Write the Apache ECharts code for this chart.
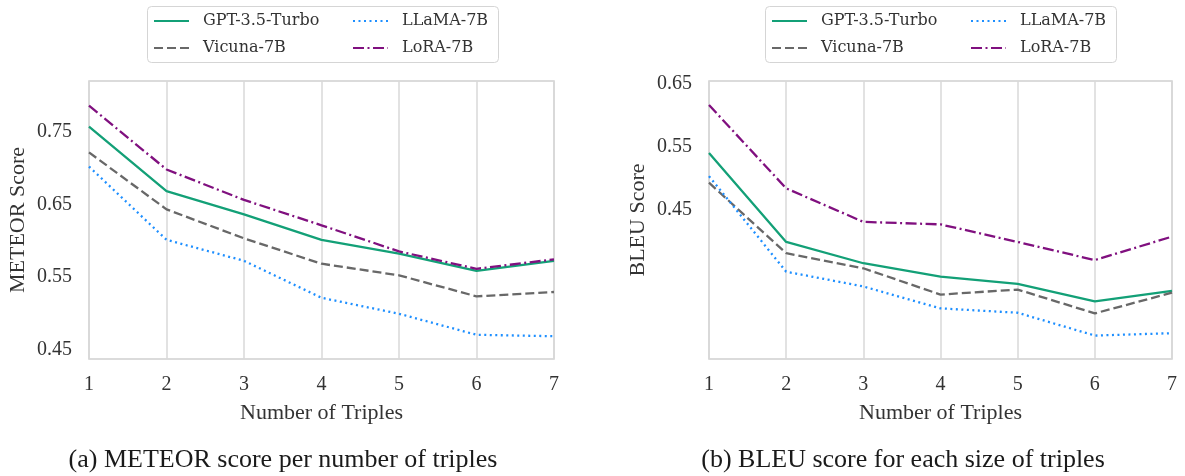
<!DOCTYPE html>
<html>
<head>
<meta charset="utf-8">
<title>METEOR / BLEU vs number of triples</title>
<script src="https://cdn.jsdelivr.net/npm/echarts@6/dist/echarts.min.js"></script>
<style>
    html, body { margin: 0; padding: 0; background: #fff; }
    #main { width: 1185px; height: 476px; }
</style>
</head>
<body>
<div id="main"></div>
<script>
'use strict';

var triples = ['1', '2', '3', '4', '5', '6', '7'];
var modelNames = ['GPT-3.5-Turbo', 'Vicuna-7B', 'LLaMA-7B', 'LoRA-7B'];

// (a) METEOR
var meteorGpt = [0.757, 0.668, 0.636, 0.601, 0.582, 0.558, 0.572];
var meteorVicuna = [0.7215, 0.643, 0.603, 0.568, 0.552, 0.523, 0.529];
var meteorLlama = [0.702, 0.601, 0.572, 0.521, 0.499, 0.470, 0.468];
var meteorLora = [0.786, 0.698, 0.656, 0.621, 0.585, 0.561, 0.574];
var meteorTicks = [0.45, 0.55, 0.65, 0.75];

// (b) BLEU
var bleuGpt = [0.540, 0.398, 0.364, 0.3425, 0.331, 0.303, 0.320];
var bleuVicuna = [0.4925, 0.380, 0.356, 0.314, 0.322, 0.284, 0.317];
var bleuLlama = [0.503, 0.3505, 0.327, 0.292, 0.285, 0.2486, 0.2524];
var bleuLora = [0.6165, 0.4835, 0.430, 0.426, 0.398, 0.369, 0.4065];
var bleuTicks = [0.45, 0.55, 0.65];

var captions = ['(a) METEOR score per number of triples', '(b) BLEU score for each size of triples'];

var styles = {
    'GPT-3.5-Turbo': { color: '#13a077', type: 'solid' },
    'Vicuna-7B': { color: '#686868', type: [9, 4] },
    'LLaMA-7B': { color: '#1e8fff', type: [2, 3.5] },
    'LoRA-7B': { color: '#80107f', type: [11, 3.5, 2, 3.5] }
};

var tickFont = 'Liberation Serif';
var legendFont = 'DejaVu Serif';

function makeSeries(name, data, idx) {
    return {
        name: name,
        type: 'line',
        xAxisIndex: idx,
        yAxisIndex: idx,
        data: data,
        symbol: 'none',
        smooth: false,
        color: styles[name].color,
        lineStyle: { width: 2.3, type: styles[name].type, cap: 'butt', color: styles[name].color },
        z: 3
    };
}

function makeX(idx) {
    return {
        type: 'category',
        gridIndex: idx,
        data: triples,
        boundaryGap: false,
        axisLine: { show: false },
        axisTick: { show: false },
        axisLabel: { margin: 16, color: '#333', fontFamily: tickFont, fontSize: 20 },
        splitLine: { show: true, lineStyle: { color: '#d9d9d9', width: 1.5 } },
        name: 'Number of Triples',
        nameLocation: 'middle',
        nameGap: 43,
        nameTextStyle: { color: '#333', fontFamily: tickFont, fontSize: 22 }
    };
}

function makeY(idx, name, min, max, ticks) {
    return {
        type: 'value',
        gridIndex: idx,
        min: min,
        max: max,
        axisLine: { show: false },
        axisTick: { show: false },
        splitLine: { show: false },
        axisLabel: {
            customValues: ticks,
            margin: 17,
            color: '#333',
            fontFamily: tickFont,
            fontSize: 20,
            formatter: function (v) { return v.toFixed(2); }
        },
        name: name,
        nameLocation: 'middle',
        nameGap: 60,
        nameTextStyle: { color: '#333', fontFamily: tickFont, fontSize: 22 }
    };
}

// 两列图例, 每列一个 legend
function makeLegends(boxLeft) {
    var common = {
        orient: 'vertical',
        top: 13,
        padding: 0,
        itemWidth: 35,
        itemHeight: 14,
        itemGap: 11,
        selectedMode: false,
        itemStyle: { opacity: 0 },
        textStyle: { fontFamily: legendFont, fontSize: 16, color: '#333', padding: [0, 0, 0, 9] }
    };
    var a = Object.assign({}, common, { left: boxLeft + 6, data: ['GPT-3.5-Turbo', 'Vicuna-7B'] });
    var b = Object.assign({}, common, { left: boxLeft + 205, data: ['LLaMA-7B', 'LoRA-7B'] });
    return [a, b];
}

var legendBoxes = [147, 765];

var chart = echarts.init(document.getElementById('main'));
var option = {
    backgroundColor: '#fff',
    animation: false,
    grid: [
        { left: 89, top: 81, width: 465, height: 278, show: true, borderColor: '#d0d0d0', borderWidth: 1.5, containLabel: false },
        { left: 709, top: 81, width: 463, height: 278, show: true, borderColor: '#d0d0d0', borderWidth: 1.5, containLabel: false }
    ],
    xAxis: [makeX(0), makeX(1)],
    yAxis: [
        makeY(0, 'METEOR Score', 0.4366, 0.82, meteorTicks),
        makeY(1, 'BLEU Score', 0.2112, 0.6548, bleuTicks)
    ],
    legend: makeLegends(legendBoxes[0]).concat(makeLegends(legendBoxes[1])),
    graphic: [
        {
            type: 'rect', left: legendBoxes[0], top: 6, z: -1,
            shape: { width: 351, height: 56, r: 4 },
            style: { fill: '#fff', stroke: '#d5d5d5', lineWidth: 1 }
        },
        {
            type: 'rect', left: legendBoxes[1], top: 6, z: -1,
            shape: { width: 351, height: 56, r: 4 },
            style: { fill: '#fff', stroke: '#d5d5d5', lineWidth: 1 }
        },
        {
            type: 'text', x: 283, y: 460,
            style: { text: captions[0], fill: '#1a1a1a', font: '26px "Liberation Serif"', textAlign: 'center', textVerticalAlign: 'middle' }
        },
        {
            type: 'text', x: 903, y: 460,
            style: { text: captions[1], fill: '#1a1a1a', font: '26px "Liberation Serif"', textAlign: 'center', textVerticalAlign: 'middle' }
        }
    ],
    series: [
        makeSeries('GPT-3.5-Turbo', meteorGpt, 0),
        makeSeries('Vicuna-7B', meteorVicuna, 0),
        makeSeries('LLaMA-7B', meteorLlama, 0),
        makeSeries('LoRA-7B', meteorLora, 0),
        makeSeries('GPT-3.5-Turbo', bleuGpt, 1),
        makeSeries('Vicuna-7B', bleuVicuna, 1),
        makeSeries('LLaMA-7B', bleuLlama, 1),
        makeSeries('LoRA-7B', bleuLora, 1)
    ]
};
chart.setOption(option);
</script>
</body>
</html>
